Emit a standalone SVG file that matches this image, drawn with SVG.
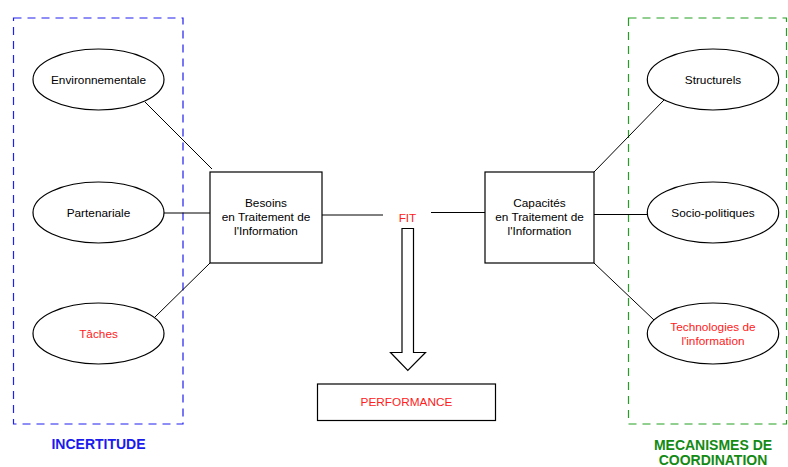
<svg xmlns="http://www.w3.org/2000/svg" width="788" height="467" viewBox="0 0 788 467">
<style>
text{font-family:"Liberation Sans",Arial,sans-serif;font-size:11.8px;text-anchor:middle;fill:#000}
.red{fill:#ff2020}
.ell,.box{fill:#fff;stroke:#000;stroke-width:1.2}
.conn line{stroke:#000;stroke-width:1}
.title{font-weight:bold;font-size:14px}
</style>
<rect x="13.5" y="18" width="169.5" height="406" fill="none" stroke="#1f1fee" stroke-width="1.2" stroke-dasharray="8,6"/>
<rect x="628.5" y="18" width="158" height="406" fill="none" stroke="#22a022" stroke-width="1.2" stroke-dasharray="8,6"/>
<text class="title" x="98.5" y="449" style="fill:#1a1aee">INCERTITUDE</text>
<text class="title" x="713" y="450" style="fill:#138a13">MECANISMES DE</text>
<text class="title" x="713" y="464.5" style="fill:#138a13">COORDINATION</text>
<g class="conn">
<line x1="145" y1="102" x2="212" y2="169"/>
<line x1="164" y1="213" x2="210" y2="213"/>
<line x1="155" y1="317" x2="210" y2="263"/>
<line x1="322" y1="215" x2="383" y2="215"/>
<line x1="431" y1="212.5" x2="485" y2="212.5"/>
<line x1="594" y1="172" x2="664" y2="100"/>
<line x1="594" y1="214.5" x2="647" y2="214.5"/>
<line x1="594" y1="263" x2="654" y2="320"/>
<polygon points="402,228.5 413.5,228.5 413.5,352.5 425.5,352.5 407.8,370.5 390.5,352.5 402,352.5" fill="#fff" stroke="#000" stroke-width="1.2"/>
</g>
<g id="env"><ellipse class="ell" cx="98.5" cy="79.5" rx="65.5" ry="30.5"/><text x="98.5" y="83.5">Environnementale</text></g>
<g id="part"><ellipse class="ell" cx="98.5" cy="212.5" rx="65.5" ry="30.5"/><text x="98.5" y="216.5">Partenariale</text></g>
<g id="taches"><ellipse class="ell" cx="98.5" cy="333.5" rx="65.5" ry="30.5"/><text class="red" x="98.5" y="337.5">Tâches</text></g>
<g id="besoins"><rect class="box" x="210" y="172" width="112" height="91"/><text x="266" y="207">Besoins</text><text x="266" y="221">en Traitement de</text><text x="266" y="235">l'Information</text></g>
<g id="fit"><text class="red" x="407.5" y="221.5">FIT</text></g>
<g id="capacites"><rect class="box" x="485" y="172" width="109" height="91"/><text x="539.5" y="207">Capacités</text><text x="539.5" y="221">en Traitement de</text><text x="539.5" y="235">l'Information</text></g>
<g id="struct"><ellipse class="ell" cx="713" cy="79.5" rx="65.7" ry="30.5"/><text x="713" y="83.5">Structurels</text></g>
<g id="socio"><ellipse class="ell" cx="713" cy="212.5" rx="65.7" ry="30.5"/><text x="713" y="216.5">Socio-politiques</text></g>
<g id="tech"><ellipse class="ell" cx="713" cy="333.5" rx="65.7" ry="30.5"/><text class="red" x="713" y="330.7">Technologies de</text><text class="red" x="713" y="344.7">l'information</text></g>
<g id="perf"><rect class="box" x="317.5" y="384" width="178" height="36.5"/><text class="red" x="406.5" y="405.5">PERFORMANCE</text></g>
</svg>
